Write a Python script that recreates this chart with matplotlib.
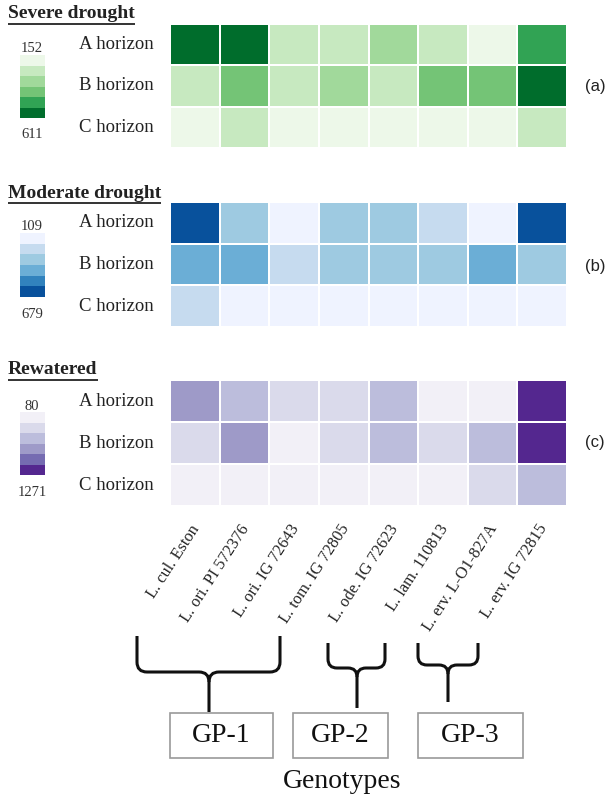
import numpy as np
import matplotlib
matplotlib.use("Agg")
import matplotlib.pyplot as plt
from matplotlib.colors import ListedColormap, BoundaryNorm
from matplotlib.cm import ScalarMappable
from matplotlib.path import Path
from matplotlib.patches import PathPatch, Rectangle

# ---------------- data ----------------
genotypes = ["L. cul. Eston", "L. ori. PI 572376", "L. ori. IG 72643", "L. tom. IG 72805",
             "L. ode. IG 72623", "L. lam. 110813", "L. erv. L-O1-827A", "L. erv. IG 72815"]
horizons = ["A horizon", "B horizon", "C horizon"]

severe_A = [598, 611, 270, 262, 340, 275, 180, 490]
severe_B = [258, 420, 265, 335, 250, 415, 405, 605]
severe_C = [165, 255, 170, 160, 158, 152, 162, 245]

moderate_A = [679, 330, 125, 335, 340, 250, 130, 665]
moderate_B = [440, 455, 240, 320, 330, 325, 450, 310]
moderate_C = [235, 112, 115, 118, 109, 120, 125, 116]

rewatered_A = [760, 560, 380, 370, 570, 150, 160, 1250]
rewatered_B = [360, 740, 130, 365, 590, 350, 580, 1271]
rewatered_C = [95, 110, 90, 100, 105, 80, 330, 540]

panel_titles = ["Severe drought", "Moderate drought", "Rewatered"]
panel_tags = ["(a)", "(b)", "(c)"]
group_names = ["GP-1", "GP-2", "GP-3"]

greens = ["#edf8e9", "#c7e9c0", "#a1d99b", "#74c476", "#31a354", "#006d2c"]
blues = ["#eff3ff", "#c6dbef", "#9ecae1", "#6baed6", "#3182bd", "#08519c"]
purples = ["#f2f0f7", "#dadaeb", "#bcbddc", "#9e9ac8", "#756bb1", "#54278f"]

SERIF = ["Liberation Serif", "DejaVu Serif"]
SANS = ["Liberation Sans", "DejaVu Sans"]

W, H = 611, 800
fig = plt.figure(figsize=(W / 100, H / 100), dpi=100)

# overlay axes in pixel coordinates (y downward)
ov = fig.add_axes([0, 0, 1, 1], zorder=5)
ov.set_xlim(0, W)
ov.set_ylim(H, 0)
ov.axis("off")
ov.patch.set_alpha(0)


def fr(x0, y0, x1, y1):
    return [x0 / W, 1 - y1 / H, (x1 - x0) / W, (y1 - y0) / H]


panels = [
    (np.array([severe_A, severe_B, severe_C]), greens, (24, 148), 14, (55, 118)),
    (np.array([moderate_A, moderate_B, moderate_C]), blues, (202, 327), 193, (233, 297)),
    (np.array([rewatered_A, rewatered_B, rewatered_C]), purples, (380, 506), 370, (412, 475)),
]

hx0, hx1 = 170, 567
tag_y = [87, 266, 443]

title_texts = []
for i, (data, cols, (y0, y1), ty, (cb0, cb1)) in enumerate(panels):
    cmap = ListedColormap(cols)
    vmin, vmax = data.min(), data.max()
    norm = BoundaryNorm(np.linspace(vmin, vmax, len(cols) + 1), cmap.N)
    ax = fig.add_axes(fr(hx0, y0, hx1, y1))
    ax.pcolormesh(data, cmap=cmap, norm=norm, edgecolors="white", linewidth=1.2)
    ax.set_ylim(data.shape[0], 0)
    ax.set_xlim(0, data.shape[1])
    ax.axis("off")
    rh = (y1 - y0) / 3
    for r, lab in enumerate(horizons):
        ov.text(79, y0 + rh * (r + 0.5), lab, family=SERIF, fontsize=13.5,
                ha="left", va="center", color="#222222")
    # colorbar
    cax = fig.add_axes(fr(20, cb0, 45, cb1))
    cb = fig.colorbar(ScalarMappable(norm=norm, cmap=cmap), cax=cax)
    cax.invert_yaxis()
    cb.outline.set_visible(False)
    cb.set_ticks([])
    cax.minorticks_off()
    cax.tick_params(which="both", length=0, labelright=False)
    ov.text(32, cb0 - 6, f"{vmin}", family=SERIF, fontsize=10.5, ha="center", va="center", color="#333333")
    ov.text(32, cb1 + 17, f"{vmax}", family=SERIF, fontsize=10.5, ha="center", va="center", color="#333333")
    t = ov.text(8, ty, panel_titles[i], family=SERIF, fontsize=14, fontweight="bold",
                ha="left", va="center", color="#222222")
    title_texts.append((t, ty))
    ov.text(585, tag_y[i], panel_tags[i], family=SANS, fontsize=12, ha="left", va="center",
            color="#222222")

# genotype labels
cw = (hx1 - hx0) / len(genotypes)
for j, g in enumerate(genotypes):
    ov.text(hx0 + cw * (j + 0.5) + 2, 526, g, family=SERIF, fontsize=11.8, rotation=57,
            rotation_mode="anchor", ha="right", va="center", color="#222222")


# braces
def brace(x0, x1, xc, ytop, ybot, yend, r=10):
    verts = [(x0, ytop), (x0, ybot - r), (x0, ybot), (x0 + r, ybot), (xc - r, ybot),
             (xc, ybot), (xc, ybot + r), (xc, yend)]
    codes = [Path.MOVETO, Path.LINETO, Path.CURVE3, Path.CURVE3, Path.LINETO,
             Path.CURVE3, Path.CURVE3, Path.LINETO]
    ov.add_patch(PathPatch(Path(verts, codes), fill=False, lw=2.2, color="#111111", capstyle="butt"))
    verts2 = [(x1, ytop), (x1, ybot - r), (x1, ybot), (x1 - r, ybot), (xc + r, ybot),
              (xc, ybot), (xc, ybot + r)]
    codes2 = [Path.MOVETO, Path.LINETO, Path.CURVE3, Path.CURVE3, Path.LINETO,
              Path.CURVE3, Path.CURVE3]
    ov.add_patch(PathPatch(Path(verts2, codes2), fill=False, lw=2.2, color="#111111", capstyle="butt"))


brace(137, 280, 209, 636, 672, 712)
brace(328, 385, 357, 643, 668, 708, r=9)
brace(418, 478, 448, 643, 665, 702, r=9)

boxes = [(170, 273), (293, 388), (418, 523)]
for (bx0, bx1), name in zip(boxes, group_names):
    ov.add_patch(Rectangle((bx0, 713), bx1 - bx0, 45, fill=False, ec="#9a9a9a", lw=1.2))
    ov.text((bx0 + bx1) / 2, 736, name, family=SERIF, fontsize=20, ha="center", va="center",
            color="#111111")

ov.text(342, 781, "Genotypes", family=SERIF, fontsize=20, ha="center", va="center", color="#111111")

# underline titles
fig.canvas.draw()
rend = fig.canvas.get_renderer()
for t, ty in title_texts:
    bb = t.get_window_extent(renderer=rend)
    ov.plot([8, 8 + bb.width], [ty + 10, ty + 10], color="#333333", lw=1.4, solid_capstyle="butt")

fig.savefig("out.png", dpi=100)
